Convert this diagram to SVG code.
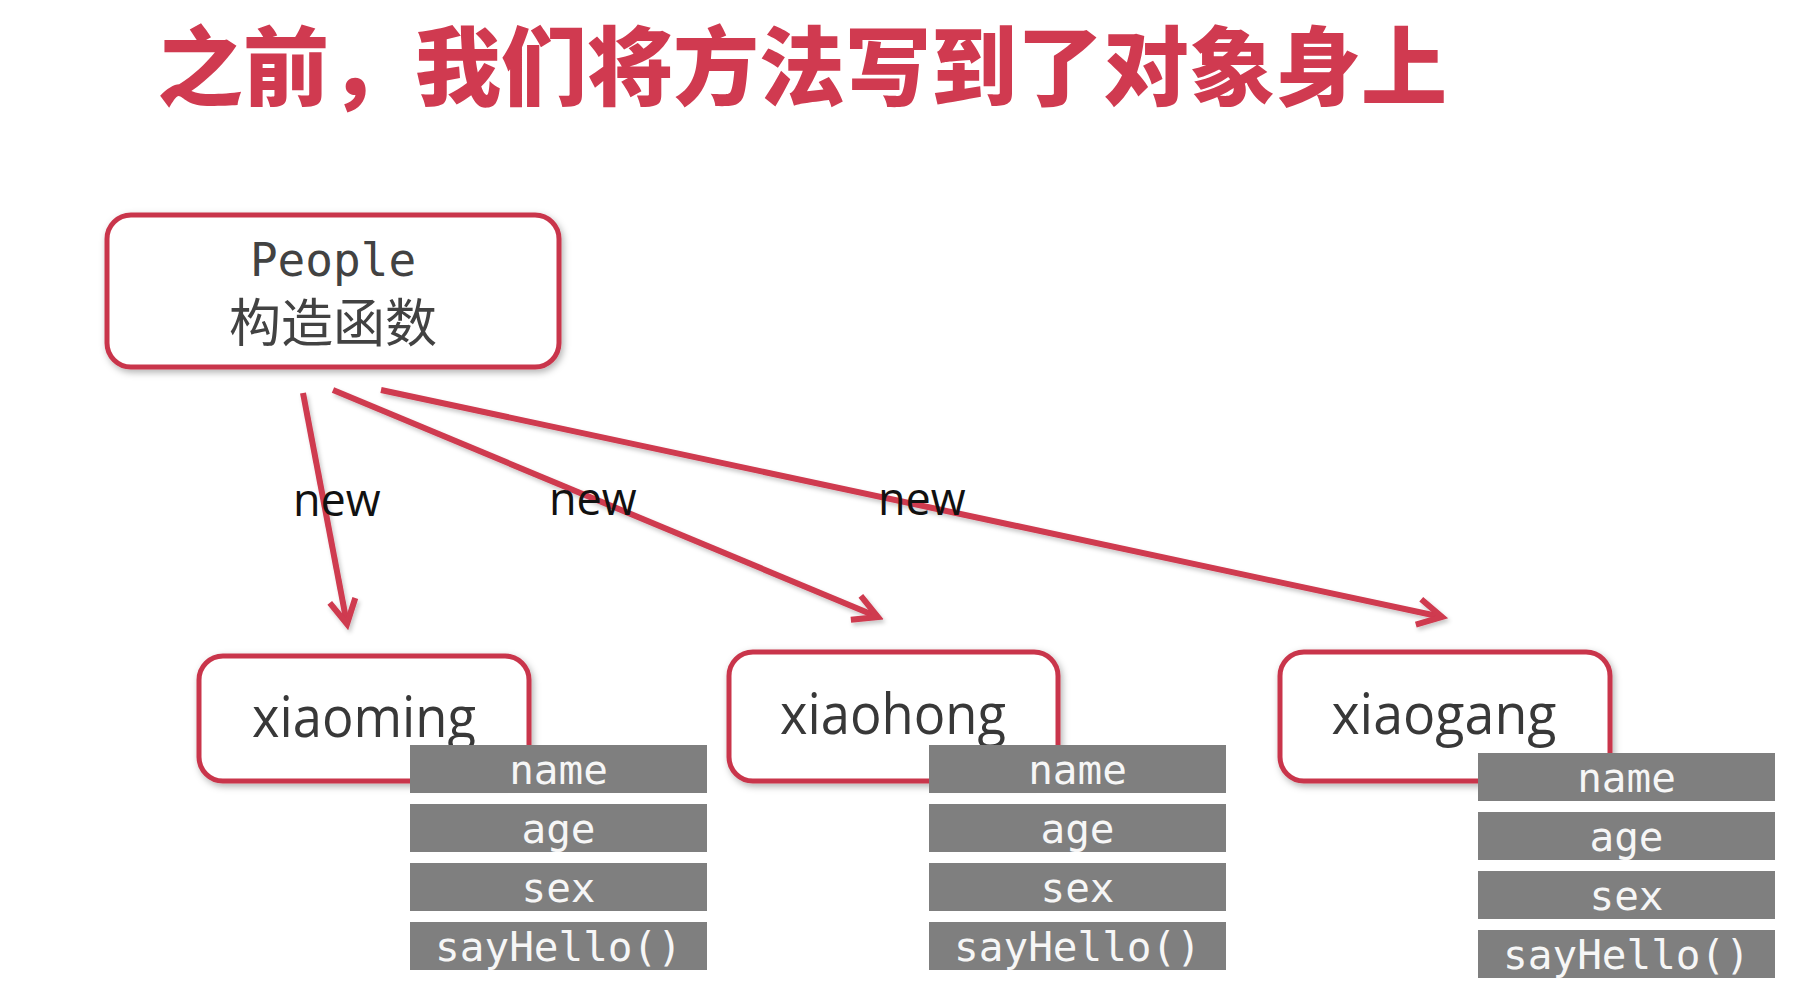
<svg xmlns="http://www.w3.org/2000/svg" width="1799" height="983" viewBox="0 0 1799 983">
  <defs>
    <filter id="soft" x="-10%" y="-10%" width="120%" height="130%">
      <feDropShadow dx="2" dy="3" stdDeviation="3.5" flood-color="#000" flood-opacity="0.3"/>
    </filter>
    <filter id="lineShadow" x="-5%" y="-5%" width="110%" height="120%">
      <feDropShadow dx="2" dy="3" stdDeviation="2" flood-color="#000" flood-opacity="0.22"/>
    </filter>
    <marker id="chevron" viewBox="-30 -18 36 36" refX="0" refY="0" markerWidth="36" markerHeight="36" markerUnits="userSpaceOnUse" orient="auto">
      <path d="M -24 -13 L 0 0 L -24 13" fill="none" stroke="#cf3a50" stroke-width="6" stroke-linejoin="miter" stroke-linecap="butt"/>
    </marker>
    <style>
      .title { font-family: "Noto Sans CJK SC", "Noto Sans CJK JP", sans-serif; font-weight: 900; font-size: 86px; fill: #d03a50; }
      .box { fill: #ffffff; stroke: #c9364b; stroke-width: 5; filter: url(#soft); }
      .mono { font-family: "DejaVu Sans Mono", "Liberation Mono", monospace; }
      .cjk { font-family: "Noto Sans CJK SC", "Noto Sans CJK JP", sans-serif; }
      .dark { fill: #424242; }
      .obj { font-family: "Open Sans", "Noto Sans", sans-serif; font-size: 57px; fill: #383838; }
      .field { fill: #7f7f7f; }
      .ftext { font-family: "DejaVu Sans Mono", "Liberation Mono", monospace; font-size: 41px; fill: #f6f6f6; }
      .arrow { fill: none; stroke: #cf3a50; stroke-width: 6; stroke-linecap: butt; marker-end: url(#chevron); }
      .lbl { font-family: "Open Sans", "Noto Sans", sans-serif; font-size: 45px; fill: #111111; }
    </style>
  </defs>

  <rect x="0" y="0" width="1799" height="983" fill="#ffffff"/>

  <!-- heading -->
  <text id="title" class="title" x="157" y="99">之前，我们将方法写到了对象身上</text>

  <!-- constructor -->
  <g id="people">
    <rect class="box" x="107" y="215" width="452" height="152" rx="24"/>
    <text class="mono dark" x="333" y="276" font-size="46" text-anchor="middle">People</text>
    <text class="cjk dark" x="333" y="342" font-size="52" text-anchor="middle">构造函数</text>
  </g>

  <!-- instantiation arrows -->
  <g id="connectors" filter="url(#lineShadow)">
    <line class="arrow" x1="303" y1="393" x2="347" y2="624"/>
    <line class="arrow" x1="333" y1="390" x2="878" y2="617"/>
    <line class="arrow" x1="381" y1="390" x2="1442" y2="617"/>
  </g>

  <g id="labels">
    <text class="lbl" x="293" y="516">new</text>
    <text class="lbl" x="549" y="515">new</text>
    <text class="lbl" x="878" y="515">new</text>
  </g>

  <!-- instance: xiaoming -->
  <g id="xiaoming">
    <rect class="box" x="199" y="656" width="330" height="125" rx="24"/>
    <text class="obj" x="364" y="737" text-anchor="middle" textLength="224" lengthAdjust="spacingAndGlyphs">xiaoming</text>
    <rect class="field" x="410" y="745" width="297" height="48"/>
    <rect class="field" x="410" y="804" width="297" height="48"/>
    <rect class="field" x="410" y="863" width="297" height="48"/>
    <rect class="field" x="410" y="922" width="297" height="48"/>
    <text class="ftext" x="558.5" y="784" text-anchor="middle">name</text>
    <text class="ftext" x="558.5" y="843" text-anchor="middle">age</text>
    <text class="ftext" x="558.5" y="902" text-anchor="middle">sex</text>
    <text class="ftext" x="558.5" y="961" text-anchor="middle">sayHello()</text>
  </g>

  <!-- instance: xiaohong -->
  <g id="xiaohong">
    <rect class="box" x="729" y="652" width="329" height="129" rx="24"/>
    <text class="obj" x="893" y="734" text-anchor="middle" textLength="226" lengthAdjust="spacingAndGlyphs">xiaohong</text>
    <rect class="field" x="929" y="745" width="297" height="48"/>
    <rect class="field" x="929" y="804" width="297" height="48"/>
    <rect class="field" x="929" y="863" width="297" height="48"/>
    <rect class="field" x="929" y="922" width="297" height="48"/>
    <text class="ftext" x="1077.5" y="784" text-anchor="middle">name</text>
    <text class="ftext" x="1077.5" y="843" text-anchor="middle">age</text>
    <text class="ftext" x="1077.5" y="902" text-anchor="middle">sex</text>
    <text class="ftext" x="1077.5" y="961" text-anchor="middle">sayHello()</text>
  </g>

  <!-- instance: xiaogang -->
  <g id="xiaogang">
    <rect class="box" x="1280" y="652" width="330" height="129" rx="24"/>
    <text class="obj" x="1444" y="734" text-anchor="middle" textLength="225" lengthAdjust="spacingAndGlyphs">xiaogang</text>
    <rect class="field" x="1478" y="753" width="297" height="48"/>
    <rect class="field" x="1478" y="812" width="297" height="48"/>
    <rect class="field" x="1478" y="871" width="297" height="48"/>
    <rect class="field" x="1478" y="930" width="297" height="48"/>
    <text class="ftext" x="1626.5" y="792" text-anchor="middle">name</text>
    <text class="ftext" x="1626.5" y="851" text-anchor="middle">age</text>
    <text class="ftext" x="1626.5" y="910" text-anchor="middle">sex</text>
    <text class="ftext" x="1626.5" y="969" text-anchor="middle">sayHello()</text>
  </g>
</svg>
